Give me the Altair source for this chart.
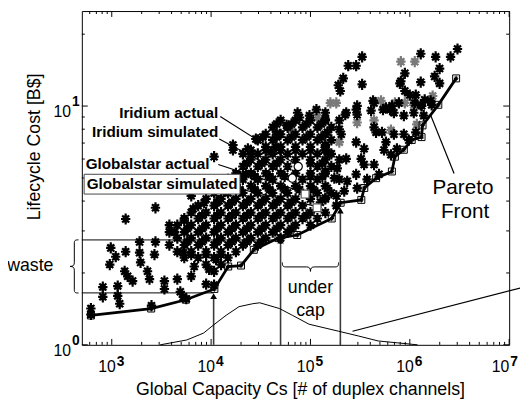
import altair as alt
import pandas as pd

# ---------------- data ----------------
pareto_capacity = [617, 2495, 5560, 10790, 14860, 20000, 26900, 47600, 73600, 163700, 201400,
                   325000, 348000, 458000, 660000, 708000, 870000, 1045000, 1313000, 1343000,
                   1936000, 2925000]
pareto_cost = [1.327, 1.419, 1.545, 1.714, 2.128, 2.148, 2.500, 2.799, 2.884, 3.381, 3.936,
               4.046, 4.539, 4.989, 5.321, 6.138, 6.561, 7.211, 7.413, 8.299, 10.12, 13.06]

threshold_capacity = [10600, 50000, 200000]
threshold_cost = [1.60, 2.73, 3.65]

waste_from = [500, 500]
waste_to = [10600, 50000]
waste_cost = [1.65, 2.75]

bell_capacity = [3070, 5690, 8400, 10550, 14190, 19100, 26300, 30900, 48800, 65600, 96800,
                 192300, 304000, 480000, 759000, 1197000]
bell_cost = [1.00, 1.048, 1.12, 1.21, 1.33, 1.445, 1.487, 1.50, 1.419, 1.33, 1.22,
             1.14, 1.089, 1.038, 1.019, 1.00]

# design cloud, log10(capacity) per row of log10(cost)
cloud_rows = {
    0.940: [4.70, 4.85, 5.00, 5.15, 5.29],
    0.911: [4.62, 4.77, 4.92, 5.07, 5.21],
    0.882: [4.55, 4.70, 4.85, 5.00, 5.15],
    0.858: [4.47, 4.62, 4.77, 4.92, 5.07, 5.21],
    0.829: [4.55, 4.70, 4.85, 5.00, 5.15],
    0.800: [4.32, 4.47, 4.62, 4.77, 4.92, 5.07, 5.21],
    0.775: [4.40, 4.55, 4.70, 4.85, 5.00, 5.15, 5.29],
    0.747: [4.32, 4.47, 4.62, 4.77, 5.07, 5.21],
    0.718: [4.25, 4.40, 4.55, 4.70, 4.85, 5.00, 5.15],
    0.693: [4.17, 4.32, 4.47, 4.62, 4.92, 5.07, 5.29],
    0.665: [4.10, 4.25, 4.40, 4.55, 4.70, 4.85, 5.00, 5.15],
    0.636: [4.03, 4.17, 4.32, 4.47, 4.62, 4.77, 5.07, 5.21],
    0.611: [3.95, 4.10, 4.25, 4.40, 4.55, 4.70, 4.85, 5.00, 5.15],
    0.583: [3.87, 4.03, 4.17, 4.32, 4.47, 4.62, 4.77, 4.92, 5.26],
    0.554: [3.80, 3.95, 4.10, 4.25, 4.40, 4.55, 4.70, 4.85, 5.00, 5.15],
    0.529: [3.73, 3.87, 4.03, 4.17, 4.32, 4.47, 4.62, 4.77, 4.92, 5.07],
    0.501: [3.66, 3.80, 3.95, 4.10, 4.25, 4.40, 4.55, 4.70, 4.85, 5.00],
    0.472: [3.58, 3.73, 3.87, 4.03, 4.17, 4.32, 4.47, 4.62, 4.77],
    0.447: [3.66, 3.80, 3.95, 4.10, 4.25, 4.40, 4.55, 4.70],
    0.418: [3.58, 3.73, 3.87, 4.03, 4.17, 4.32, 4.47],
    0.390: [3.66, 3.80, 3.95, 4.10, 4.25],
    0.365: [3.73, 3.87, 4.03, 4.17],
    0.336: [3.95, 4.10],
    0.308: [4.03],
    0.254: [3.95],
}

# further designs packed into the dense core
core_rows = {
    0.925: [4.66, 4.81, 4.96, 5.11],
    0.870: [4.52, 4.66, 4.81, 4.96, 5.11],
    0.815: [4.40, 4.55, 4.70, 4.85, 5.00, 5.14],
    0.760: [4.36, 4.51, 4.66, 5.00, 5.12],
    0.705: [4.29, 4.44, 4.59, 4.74, 5.00, 5.12],
    0.650: [4.14, 4.29, 4.44, 4.59, 4.74, 4.89, 5.03],
    0.597: [4.06, 4.21, 4.36, 4.51, 4.66, 4.81, 5.10],
    0.542: [3.91, 4.06, 4.21, 4.36, 4.51, 4.66, 4.81, 4.96],
    0.487: [3.76, 3.91, 4.06, 4.21, 4.36, 4.51, 4.66, 4.81],
    0.432: [3.76, 3.91, 4.06, 4.21, 4.36, 4.51],
    0.378: [3.80, 3.95, 4.10],
}

sparse_points = [
    (2.79, 0.152), (2.79, 0.127), (2.91, 0.242), (2.91, 0.201), (3.06, 0.246), (3.06, 0.205),
    (3.08, 0.172), (2.99, 0.406), (3.04, 0.369), (2.98, 0.336), (3.14, 0.390), (3.14, 0.527),
    (3.44, 0.574), (3.13, 0.308), (3.16, 0.287), (3.21, 0.267), (3.28, 0.431), (3.28, 0.386),
    (3.29, 0.345), (3.36, 0.308), (3.38, 0.275), (3.44, 0.431), (3.43, 0.378), (3.53, 0.267),
    (3.53, 0.234), (3.66, 0.275), (3.69, 0.222), (3.63, 0.472), (3.58, 0.501), (3.73, 0.521),
    (3.82, 0.570), (3.72, 0.386), (3.83, 0.328), (3.80, 0.287), (3.98, 0.316), (4.05, 0.357),
    (3.75, 0.193), (3.40, 0.164), (3.72, 0.201), (3.80, 0.624), (3.93, 0.595), (4.08, 0.603),
    (4.13, 0.644), (4.25, 0.698), (4.35, 0.714), (4.03, 0.788), (4.22, 0.837), (4.22, 0.816),
    (4.37, 0.821), (4.40, 0.796), (4.45, 0.862), (4.60, 0.808), (4.65, 0.829), (4.03, 0.250),
]

upper_black = [
    (5.52, 1.206), (5.38, 1.169), (5.46, 1.169), (5.33, 1.116), (5.28, 1.087), (5.30, 1.063),
    (5.52, 1.091), (6.11, 1.219), (6.26, 1.206), (6.41, 1.206), (6.48, 1.239), (6.30, 1.157),
    (6.25, 1.124), (6.30, 1.095), (6.11, 1.100), (5.95, 1.137), (5.90, 1.095), (5.95, 1.063),
    (6.00, 1.046), (6.06, 1.046), (6.15, 1.026), (6.21, 1.022), (6.11, 1.005), (6.05, 1.013),
    (5.63, 1.022), (5.80, 0.985), (5.73, 0.985), (5.46, 0.985), (5.35, 0.964), (5.15, 0.972),
    (4.99, 0.960), (4.87, 0.972), (4.89, 0.952), (4.76, 0.919), (4.66, 0.882), (4.69, 0.882),
    (5.06, 0.985), (5.91, 1.104), (5.47, 1.001), (5.64, 1.013), (5.82, 1.001), (5.89, 1.013),
    (6.12, 1.001), (6.22, 1.005), (5.36, 0.972), (5.47, 0.964), (5.61, 0.981), (5.76, 0.993),
    (5.84, 0.972), (5.94, 0.960), (6.04, 0.972), (6.14, 0.960), (5.15, 0.944), (5.17, 0.890),
    (5.29, 0.903), (5.31, 0.882), (5.64, 0.911), (5.66, 0.890), (5.72, 0.890), (5.84, 0.882),
    (5.94, 0.882), (6.06, 0.890), (5.15, 0.837), (5.46, 0.849), (5.54, 0.821), (5.76, 0.849),
    (5.74, 0.816), (5.99, 0.857), (5.19, 0.800), (5.36, 0.779), (5.51, 0.779), (5.64, 0.755),
    (5.81, 0.796), (5.87, 0.821), (5.69, 0.714), (5.54, 0.755), (5.27, 0.739), (5.46, 0.714),
    (5.37, 0.685), (5.24, 0.698), (5.15, 0.726), (5.17, 0.656), (5.34, 0.644), (5.47, 0.656),
    (5.57, 0.693), (5.15, 0.615), (5.26, 0.624),
]

upper_gray = [
    (5.91, 1.186), (6.05, 1.186), (6.23, 1.042), (5.85, 1.013), (5.95, 1.013), (5.71, 1.022),
    (5.20, 1.013), (5.26, 1.013), (6.04, 1.005), (5.47, 0.931), (5.64, 0.940), (5.07, 0.952),
    (4.81, 0.903), (5.29, 0.849), (5.81, 0.899), (6.07, 0.923),
]

iridium_capacity = [75300, 65600]
iridium_cost = [5.58, 4.99]
globalstar_capacity = [88300, 116500]
globalstar_cost = [4.28, 3.75]

label_text = ["Iridium actual", "Iridium simulated", "Globalstar actual"]
label_capacity = [11820, 11820, 9620]
label_cost = [9.39, 7.77, 5.74]

leader_from_capacity = [12360, 12080, 11800, 19540, 1614000, 265000]
leader_from_cost = [9.04, 7.28, 5.69, 4.49, 9.20, 1.14]
leader_to_capacity = [71900, 61200, 82600, 106200, 2790000, 12900000]
leader_to_cost = [5.69, 5.08, 4.37, 3.83, 5.22, 1.73]

x_major = [1e3, 1e4, 1e5, 1e6, 1e7]
x_exponent = ["3", "4", "5", "6", "7"]
y_major = [1, 10]
y_exponent = ["0", "1"]
x_minor = [m * 10 ** e for e in range(2, 7) for m in range(2, 10) if 500 < m * 10 ** e < 1e7]
y_minor = [2, 3, 4, 5, 6, 7, 8, 9, 20]

# ---------------- chart ----------------
FONT = "Liberation Sans, Arial, Helvetica, sans-serif"
W, H = 434, 339
xs = alt.Scale(type="log", domain=[500, 1e7], nice=False)
ys = alt.Scale(type="log", domain=[1, 25], nice=False)


def X(f="c"):
    return alt.X(f"{f}:Q", scale=xs, axis=None)


def Y(f="v"):
    return alt.Y(f"{f}:Q", scale=ys, axis=None)


STAR = ("M0,-1.2L0,1.2M-1,0L1,0M-0.75,-0.75L0.75,0.75M-0.75,0.75L0.75,-0.75"
        "M-0.45,-0.5L0.45,-0.5M-0.45,0.5L0.45,0.5")
V_BRACE = ("M0.16,-1C0.02,-1 0,-0.97 0,-0.88L0,-0.14C0,-0.05 -0.04,0 -0.16,0"
           "C-0.04,0 0,0.05 0,0.14L0,0.88C0,0.97 0.02,1 0.16,1")
H_BRACE = ("M-1,-0.16C-1,-0.02 -0.97,0 -0.88,0L-0.14,0C-0.05,0 0,0.04 0,0.16"
           "C0,0.04 0.05,0 0.14,0L0.88,0C0.97,0 1,-0.02 1,-0.16")

black_pts = ([(lx, ly) for ly, lxs in cloud_rows.items() for lx in lxs]
             + [(lx, ly) for ly, lxs in core_rows.items() for lx in lxs]
             + sparse_points + upper_black)
df_black = pd.DataFrame({"c": [10 ** p[0] for p in black_pts], "v": [10 ** p[1] for p in black_pts]})
df_gray = pd.DataFrame({"c": [10 ** p[0] for p in upper_gray], "v": [10 ** p[1] for p in upper_gray]})
df_pareto = pd.DataFrame({"c": pareto_capacity, "v": pareto_cost, "o": range(len(pareto_capacity))})
df_thr = pd.DataFrame({"c": threshold_capacity, "v": threshold_cost, "v0": [1, 1, 1]})
df_waste = pd.DataFrame({"c": waste_from, "c2": waste_to, "v": waste_cost})
df_bell = pd.DataFrame({"c": bell_capacity, "v": bell_cost, "o": range(len(bell_capacity))})
df_lead = pd.DataFrame({"c": leader_from_capacity, "v": leader_from_cost,
                        "c2": leader_to_capacity, "v2": leader_to_cost})

layers = []

# inward ticks on all four sides
for vals, L in ((x_major, 6), (x_minor, 3)):
    d = pd.DataFrame({"c": vals})
    layers.append(alt.Chart(d).mark_rule(color="black", strokeWidth=1).encode(
        x=X(), y=alt.value(H), y2=alt.value(H - L)))
    layers.append(alt.Chart(d).mark_rule(color="black", strokeWidth=1).encode(
        x=X(), y=alt.value(0), y2=alt.value(L)))
for vals, L in ((y_major, 6), (y_minor, 3)):
    d = pd.DataFrame({"v": vals})
    layers.append(alt.Chart(d).mark_rule(color="black", strokeWidth=1).encode(
        y=Y(), x=alt.value(0), x2=alt.value(L)))
    layers.append(alt.Chart(d).mark_rule(color="black", strokeWidth=1).encode(
        y=Y(), x=alt.value(W), x2=alt.value(W - L)))

# waste lines, threshold verticals, distribution curve, leader lines
layers.append(alt.Chart(df_waste).mark_rule(color="black", strokeWidth=1).encode(
    x=X(), x2=alt.X2("c2:Q"), y=Y()))
layers.append(alt.Chart(df_thr).mark_rule(color="#3a3a3a", strokeWidth=1.6).encode(
    x=X(), y=Y("v0"), y2=alt.Y2("v:Q")))
layers.append(alt.Chart(df_bell).mark_line(color="black", strokeWidth=1).encode(
    x=X(), y=Y(), order="o:Q"))
layers.append(alt.Chart(df_lead).mark_rule(color="black", strokeWidth=1.2).encode(
    x=X(), y=Y(), x2=alt.X2("c2:Q"), y2=alt.Y2("v2:Q")))

# design cloud
layers.append(alt.Chart(df_gray).mark_point(shape=STAR, filled=False, size=90, strokeWidth=2.2,
                                            color="#7a7a7a", opacity=1).encode(x=X(), y=Y()))
layers.append(alt.Chart(df_black).mark_point(shape=STAR, filled=False, size=90, strokeWidth=2.2,
                                             color="black", opacity=1).encode(x=X(), y=Y()))

# Pareto front
layers.append(alt.Chart(df_pareto).mark_line(color="black", strokeWidth=2.8).encode(
    x=X(), y=Y(), order="o:Q"))
layers.append(alt.Chart(df_pareto).mark_point(shape=STAR, filled=False, size=22, strokeWidth=1,
                                              color="black", opacity=1).encode(x=X(), y=Y()))
layers.append(alt.Chart(df_pareto).mark_point(shape="square", filled=False, size=50, strokeWidth=1,
                                              color="black", opacity=1).encode(x=X(), y=Y()))
layers.append(alt.Chart(df_thr).mark_point(shape="triangle-up", filled=True, size=45,
                                           color="black", opacity=1).encode(x=X(), y=Y()))

# reference systems
layers.append(alt.Chart(pd.DataFrame({"c": iridium_capacity, "v": iridium_cost})).mark_point(
    shape="circle", filled=True, fill="white", stroke="black", strokeWidth=1.2, size=70,
    opacity=1).encode(x=X(), y=Y()))
layers.append(alt.Chart(pd.DataFrame({"c": globalstar_capacity, "v": globalstar_cost})).mark_point(
    shape="square", filled=True, fill="white", stroke="#555555", strokeWidth=1.2, size=64,
    opacity=1).encode(x=X(), y=Y()))

# boxed label
layers.append(alt.Chart(pd.DataFrame({"c": [527], "c2": [19540], "v": [4.28], "v2": [5.18]})).mark_rect(
    fill="white", stroke="#444444", strokeWidth=1).encode(
    x=X(), x2=alt.X2("c2:Q"), y=Y(), y2=alt.Y2("v2:Q")))
layers.append(alt.Chart(pd.DataFrame({"c": [3210], "v": [4.71], "t": ["Globalstar simulated"]})).mark_text(
    font=FONT, fontSize=15.5, fontWeight="bold", align="center", baseline="middle", color="black").encode(
    x=X(), y=Y(), text="t:N"))
layers.append(alt.Chart(pd.DataFrame({"c": label_capacity, "v": label_cost, "t": label_text})).mark_text(
    font=FONT, fontSize=15.5, fontWeight="bold", align="right", baseline="middle", color="black").encode(
    x=X(), y=Y(), text="t:N"))

# braces
layers.append(alt.Chart(pd.DataFrame({"c": [420], "v": [2.13]})).mark_point(
    shape=V_BRACE, filled=False, size=2916, strokeWidth=1, color="black", opacity=1).encode(x=X(), y=Y()))
layers.append(alt.Chart(pd.DataFrame({"c": [1e5], "v": [2.12]})).mark_point(
    shape=H_BRACE, filled=False, size=3249, strokeWidth=1, color="black", opacity=1).encode(x=X(), y=Y()))

# plain annotations
layers.append(alt.Chart(pd.DataFrame({"c": [259], "v": [2.13], "t": ["waste"]})).mark_text(
    font=FONT, fontSize=18, align="right", baseline="middle", color="black").encode(
    x=X(), y=Y(), text="t:N"))
layers.append(alt.Chart(pd.DataFrame({"c": [1e5, 1e5], "v": [1.73, 1.39], "t": ["under", "cap"]})).mark_text(
    font=FONT, fontSize=18, align="center", baseline="middle", color="black").encode(
    x=X(), y=Y(), text="t:N"))
layers.append(alt.Chart(pd.DataFrame({"c": [3.43e6, 3.6e6], "v": [4.54, 3.58], "t": ["Pareto", "Front"]})).mark_text(
    font=FONT, fontSize=21, align="center", baseline="middle", color="black").encode(
    x=X(), y=Y(), text="t:N"))

# tick labels 10^n
dxl = pd.DataFrame({"c": x_major[:-1], "e": x_exponent[:-1]})
dxl_last = pd.DataFrame({"c": x_major[-1:], "e": x_exponent[-1:]})
for d, dx10, dxe in ((dxl, 4, 5), (dxl_last, 0, 1)):
    layers.append(alt.Chart(d).mark_text(font=FONT, fontSize=16, align="right", baseline="alphabetic",
                                         dx=dx10, color="black").encode(
        x=X(), y=alt.value(H + 28), text=alt.value("10")))
    layers.append(alt.Chart(d).mark_text(font=FONT, fontSize=14, fontWeight="bold", align="left",
                                         baseline="alphabetic", dx=dxe, color="black").encode(
        x=X(), y=alt.value(H + 21), text="e:N"))
dyl = pd.DataFrame({"v": y_major, "e": y_exponent})
layers.append(alt.Chart(dyl).mark_text(font=FONT, fontSize=16, align="right", baseline="alphabetic",
                                       dy=11, color="black").encode(
    y=Y(), x=alt.value(-11), text=alt.value("10")))
layers.append(alt.Chart(dyl).mark_text(font=FONT, fontSize=14, fontWeight="bold", align="left",
                                       baseline="alphabetic", dy=0, color="black").encode(
    y=Y(), x=alt.value(-10), text="e:N"))

# axis titles
layers.append(alt.Chart(pd.DataFrame({"t": ["Global Capacity Cs [# of duplex channels]"]})).mark_text(
    font=FONT, fontSize=18, align="center", baseline="alphabetic", color="black").encode(
    x=alt.value(222), y=alt.value(H + 51), text="t:N"))
layers.append(alt.Chart(pd.DataFrame({"t": ["Lifecycle Cost [B$]"]})).mark_text(
    font=FONT, fontSize=18, align="center", baseline="middle", angle=270, color="black").encode(
    x=alt.value(-47), y=alt.value(138), text="t:N"))

chart = alt.layer(*layers).properties(
    width=W, height=H,
    autosize=alt.AutoSizeParams(type="none"),
    padding={"left": 75, "top": 0, "right": 11, "bottom": 57},
).configure_view(stroke="black", strokeWidth=1)

chart.save("out.html", embed_options={"renderer": "svg", "actions": False})
